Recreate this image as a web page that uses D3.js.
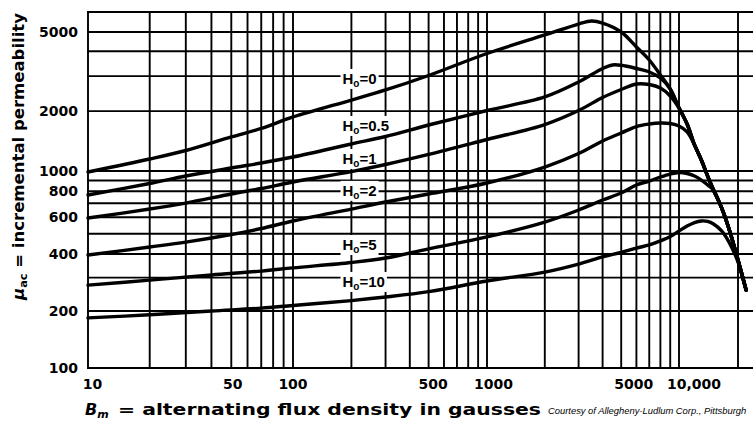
<!DOCTYPE html>
<html><head><meta charset="utf-8">
<script src="https://cdn.jsdelivr.net/npm/d3@7"></script>
<style>html,body{margin:0;padding:0;background:#fff;} svg{display:block}</style>
</head><body>
<svg id="chart" width="753" height="425"></svg>
<script>
// ---------- data ----------
const xTickValues = [10, 50, 100, 500, 1000, 5000, 10000];
const xTickLabels = ["10", "50", "100", "500", "1000", "5000", "10,000"];
const yTickValues = [100, 200, 400, 600, 800, 1000, 2000, 5000];
const yTickLabels = ["100", "200", "400", "600", "800", "1000", "2000", "5000"];
const xGridValues = [10,20,30,40,50,60,70,80,90,100,200,300,400,500,600,700,800,900,1000,
                     2000,3000,4000,5000,6000,7000,8000,9000,10000,20000];
const yGridValues = [100,200,300,400,500,600,700,800,900,1000,2000,3000,4000,5000];

const seriesH = ["0", "0.5", "1", "2", "5", "10"];

const bmH0   = [10,20,30,50,70,100,200,300,500,1000,2000,3000,3500,4000,5000,6000,7000,8000,9000,10000,11000,12000,13000,14000,15000,16500,18000,20000,22000];
const muH0   = [989,1149,1268,1483,1636,1869,2275,2555,3022,3898,4831,5483,5675,5546,5000,4205,3615,3040,2585,2075,1723,1352,1136,946,811,665,527,372,258];

const bmH05  = [10,20,30,50,70,100,200,300,500,1000,2000,3000,4000,4500,5000,6000,7000,8000,9000,10000,11000,12000,13000,14000,15000,16500,18000,20000,22000];
const muH05  = [767,871,946,1035,1097,1176,1367,1491,1703,2015,2357,2803,3277,3413,3400,3277,3147,2936,2585,2075,1723,1352,1136,946,811,665,527,372,258];

const bmH1   = [10,20,30,50,70,100,200,300,500,1000,2000,3000,4000,5000,6000,7000,8000,9000,10000,11000,12000,13000,14000,15000,16500,18000,20000,22000];
const muH1   = [595,657,702,776,824,886,994,1078,1211,1440,1713,2015,2342,2570,2738,2723,2615,2384,2075,1723,1352,1136,946,811,665,527,372,258];

const bmH2   = [10,20,30,50,70,100,200,300,500,1000,2000,3000,4000,5000,6000,7000,8000,9000,10000,11000,12000,13000,14000,15000,16500,18000,20000,22000];
const muH2   = [395,432,456,496,530,576,657,710,776,876,1047,1224,1415,1553,1674,1723,1743,1733,1684,1571,1352,1136,946,811,665,527,372,258];

const bmH5   = [10,20,40,70,100,200,300,500,1000,2000,3000,4000,5000,6000,7000,8000,9000,10000,11000,12000,13000,14000,15000,16500,18000,20000,22000];
const muH5   = [274,291,310,325,338,361,381,423,483,569,650,726,784,857,895,936,967,983,973,946,905,857,811,665,527,372,258];

const bmH10  = [10,20,40,70,100,200,300,500,1000,2000,3000,4000,5000,6000,7000,8000,9000,10000,11000,12000,13000,14000,15000,16500,18000,20000,22000];
const muH10  = [184,191,200,207,214,227,237,253,288,321,354,386,407,427,442,462,485,516,545,566,576,573,557,516,456,363,258];

// where the curve labels sit (data units)
const labelBm = 180;
const labelMu = [2740, 1590, 1085, 760, 418, 268];

// ---------- chart ----------
const svg = d3.select("#chart");
const W = 753, H = 425;

// scanned chart: slightly uneven decades, hence piecewise log scales
const x = d3.scaleLog().domain([10, 100, 1000, 10000, 20000]).range([88, 293, 487, 679, 738]);
const y = d3.scaleLog().domain([100, 200, 400, 1000, 5000, 6300]).range([368, 311, 254, 171, 32, 12]);
const xLab = d3.scaleLog().domain([10, 10000]).range([92.5, 694]);

const x0 = x(10), yB = y(100), yT = y(6300);

const grid = svg.append("g").attr("stroke", "#000").attr("stroke-width", 1.9);
grid.selectAll("line.v").data(xGridValues).join("line")
  .attr("x1", d => x(d)).attr("x2", d => x(d)).attr("y1", yT).attr("y2", yB);
grid.selectAll("line.h").data(yGridValues.concat([6300])).join("line")
  .attr("x1", x0 - 1).attr("x2", W).attr("y1", d => y(d)).attr("y2", d => y(d));

const bgG = svg.append("g");
const curveG = svg.append("g");
const labG = svg.append("g");

const series = [
  [bmH0, muH0], [bmH05, muH05], [bmH1, muH1], [bmH2, muH2], [bmH5, muH5], [bmH10, muH10]
];
const line = d3.line().x(d => x(d[0])).y(d => y(d[1])).curve(d3.curveCatmullRom.alpha(0.5));
series.forEach(([b, m]) => {
  curveG.append("path").datum(b.map((v, i) => [v, m[i]]))
    .attr("d", line).attr("fill", "none").attr("stroke", "#000")
    .attr("stroke-width", 3.4).attr("stroke-linejoin", "round").attr("stroke-linecap", "round");
});

seriesH.forEach((h, i) => {
  const t = labG.append("text")
    .attr("x", x(labelBm)).attr("y", y(labelMu[i]))
    .attr("font-family", "Liberation Sans, Arial, sans-serif")
    .attr("font-weight", "bold").attr("font-size", 15).attr("fill", "#000");
  t.append("tspan").text("H");
  t.append("tspan").text("o").attr("font-size", 10).attr("dy", 3);
  t.append("tspan").text("=" + h).attr("dy", -3);
  const bb = t.node().getBBox();
  bgG.append("rect").attr("x", bb.x - 2).attr("y", bb.y - 1)
    .attr("width", bb.width + 4).attr("height", bb.height + 1).attr("fill", "#fff");
});

// y tick labels
svg.append("g").selectAll("text").data(yTickValues).join("text")
  .attr("x", 78).attr("y", d => y(d)).attr("dy", "0.36em")
  .attr("text-anchor", "end")
  .attr("font-family", "DejaVu Sans, sans-serif").attr("font-weight", "bold").attr("font-size", 14)
  .text((d, i) => yTickLabels[i]);

// x tick labels
svg.append("g").selectAll("text").data(xTickValues).join("text")
  .attr("x", d => xLab(d)).attr("y", 389)
  .attr("text-anchor", "middle")
  .attr("font-family", "DejaVu Sans, sans-serif").attr("font-weight", "bold").attr("font-size", 14)
  .text((d, i) => xTickLabels[i]);

// x axis title
const xt = svg.append("text").attr("x", 85).attr("y", 415)
  .attr("font-family", "DejaVu Sans, sans-serif").attr("font-weight", "bold").attr("font-size", 16);
xt.append("tspan").text("B").attr("font-style", "italic");
xt.append("tspan").text("m").attr("font-style", "italic").attr("font-size", 11).attr("dy", 3);
svg.append("text").attr("x", 118).attr("y", 415)
  .attr("font-family", "DejaVu Sans, sans-serif").attr("font-weight", "bold").attr("font-size", 16)
  .attr("textLength", 423).attr("lengthAdjust", "spacingAndGlyphs")
  .text("=  alternating flux density in gausses");
svg.append("text").attr("x", 548).attr("y", 414)
  .attr("font-family", "Liberation Sans, Arial, sans-serif").attr("font-style", "italic").attr("font-size", 9.4)
  .text("Courtesy of Allegheny-Ludlum Corp., Pittsburgh");

// y axis title
const yt = svg.append("text")
  .attr("transform", "translate(24,300) rotate(-90)")
  .attr("font-family", "DejaVu Sans, sans-serif").attr("font-weight", "bold").attr("font-size", 16)
  .attr("textLength", 287).attr("lengthAdjust", "spacingAndGlyphs");
yt.append("tspan").text("μ").attr("font-style", "italic");
yt.append("tspan").text("ac").attr("font-size", 11).attr("dy", 3);
yt.append("tspan").text(" = incremental permeability").attr("dy", -3);
</script>
</body></html>
